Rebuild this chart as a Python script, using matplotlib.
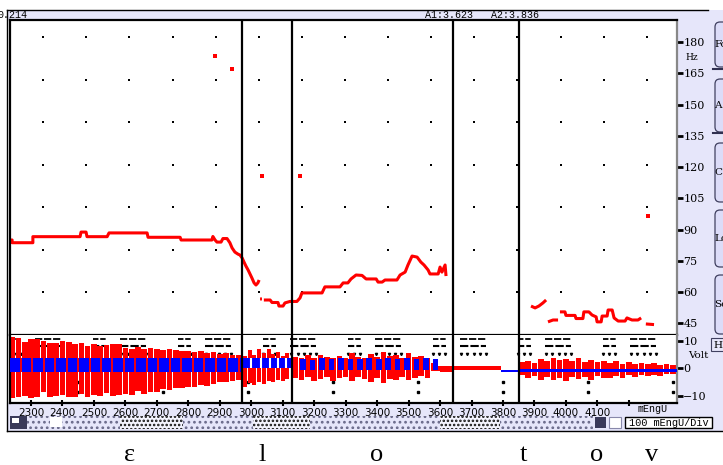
import numpy as np
import matplotlib
matplotlib.use("Agg")
import matplotlib.pyplot as plt
from matplotlib.patches import Rectangle, FancyBboxPatch

nan = float("nan")

# pitch track (mEngU, Hz), nan breaks the voiced stretches
pitch_t = [2233, 2240, 2240, 2306, 2306, 2456, 2459, 2475, 2478, 2542, 2548, 2669, 2672,
           2774, 2777, 2875, 2878, 2885, 2891, 2904, 2910, 2923, 2932, 2939, 2948, 2958,
           2964, 2971, 2977, 2983, 2990, 2996, 3002, 3009, 3015, 3021, 3025, nan,
           3028, 3034, nan,
           3040, 3060, 3066, 3085, 3088, 3101, 3107, 3123, 3145, 3155, 3161, 3225, 3234,
           3282, 3292, 3307, 3317, 3333, 3352, 3365, 3397, 3403, 3416, 3425, 3463, 3473,
           3489, 3498, 3511, 3527, 3539, 3549, 3562, 3568, 3594, 3600, 3606, 3616, 3619, nan,
           3889, 3902, 3914, 3927, 3937, nan,
           3943, 3959, 3975, nan,
           3981, 3997, 4000, 4029, 4032, 4054, 4057, 4073, 4083, 4096,
           4099, 4112, 4115, 4131, 4134, 4147, 4153, 4166, 4188, 4194, 4210, 4229, 4239, nan,
           4254, 4280]
pitch_hz = [85.0, 85.0, 83.7, 83.7, 86.6, 86.6, 88.8, 88.8, 86.6, 86.6, 88.4, 88.4, 86.3,
            86.3, 85.0, 85.0, 86.7, 85.0, 84.0, 84.0, 85.7, 85.7, 83.7, 81.2, 79.2, 78.2,
            77.8, 76.4, 74.4, 72.5, 70.6, 68.7, 66.8, 64.4, 63.4, 64.4, 65.8, nan,
            56.7, 56.7, nan,
            56.2, 56.2, 55.0, 55.0, 53.3, 53.3, 54.8, 55.5, 55.5, 57.2, 59.6, 59.6, 62.5,
            62.5, 64.4, 64.4, 66.3, 68.2, 68.0, 66.3, 66.3, 64.8, 64.8, 65.8, 65.8, 68.2,
            69.6, 73.0, 77.3, 76.8, 74.4, 73.0, 70.6, 68.7, 68.7, 72.0, 69.6, 73.0, 67.7, nan,
            53.3, 52.4, 53.3, 54.8, 56.2, nan,
            45.7, 46.6, 46.6, nan,
            50.5, 50.5, 48.8, 48.8, 47.3, 47.3, 50.5, 50.5, 49.0, 48.1,
            45.7, 45.7, 48.5, 48.5, 51.4, 51.4, 47.6, 46.1, 46.1, 47.6, 46.6, 46.6, 47.6, nan,
            44.7, 44.4]
stray_t = [2885, 2939, 3034, 3155, 4261]
stray_hz = [173.3, 167.0, 115.7, 115.7, 96.5]

seg_bounds = [2970.6, 3129.5, 3641.1, 3850.9]

# waveform envelope (Volt)
t1 = [2240, 2260, 2280, 2300, 2320, 2340, 2360, 2380, 2400, 2420, 2440, 2460, 2480, 2500,
      2520, 2540, 2560, 2580, 2600, 2620, 2640, 2660, 2680, 2700, 2720, 2740, 2760, 2780,
      2800, 2820, 2840, 2860, 2880, 2900, 2920, 2940, 2960]
top1 = [11.2, 11.0, 9.5, 10.5, 10.4, 9.8, 9.2, 9.0, 9.9, 9.6, 8.7, 9.2, 8.0, 8.9, 8.1, 8.3,
        8.7, 8.6, 7.5, 6.9, 7.6, 6.8, 7.2, 7.0, 6.6, 6.9, 6.5, 6.2, 6.4, 5.9, 6.3, 5.5, 5.8,
        5.2, 5.5, 4.8, 4.9]
bot1 = [-10.5, -10.4, -9.8, -10.5, -10.2, -8.5, -10.3, -10.0, -9.4, -10.2, -10.1, -9.0,
        -10.1, -9.6, -10.0, -8.8, -9.9, -9.7, -9.2, -9.5, -8.0, -9.2, -8.3, -8.5, -7.4, -7.8,
        -6.9, -7.1, -6.5, -6.8, -5.9, -6.2, -5.5, -5.0, -4.8, -4.4, -4.0]
pulses1 = [2267, 2303, 2340, 2376, 2413, 2449, 2486, 2522, 2559, 2595, 2632, 2668, 2705,
           2741, 2778, 2814, 2851, 2887, 2924, 2960]

t2 = [2980, 2995, 3010, 3025, 3040, 3055, 3070, 3085, 3100, 3115]
top2 = [4.5, 6.5, 5.0, 7.0, 5.5, 6.8, 5.2, 6.0, 4.6, 5.5]
bot2 = [-6.5, -5.2, -6.0, -4.8, -5.5, -4.5, -5.0, -4.2, -4.6, -3.8]
gaps2 = [3000, 3030, 3058, 3085, 3110]

t3 = [3140, 3160, 3180, 3200, 3220, 3240, 3260, 3280, 3300, 3320, 3340, 3360, 3380, 3400,
      3420, 3440, 3460, 3480, 3500, 3520, 3540, 3560, 3580, 3600, 3620]
top3 = [4.0, 3.6, 4.8, 3.8, 5.0, 4.2, 3.9, 4.6, 3.7, 5.5, 4.1, 3.8, 5.2, 4.0, 5.8, 4.3, 4.9,
        3.9, 5.6, 4.2, 4.6, 3.8, 2.0, 1.0, 1.0]
bot3 = [-3.5, -4.2, -3.0, -4.5, -3.8, -2.9, -4.6, -3.6, -3.2, -4.4, -3.0, -3.9, -4.8, -3.4,
        -5.2, -3.7, -4.3, -3.1, -4.0, -3.5, -2.8, -3.3, -1.0, -1.0, -1.0]
blue3 = [3165, 3195, 3225, 3255, 3285, 3315, 3345, 3375, 3405, 3435, 3465, 3495, 3525,
         3555, 3585]
blue3_top = [3.5, 3.2, 3.6, 3.4, 3.6, 3.3, 3.5, 3.6, 3.4, 3.6, 3.5, 3.6, 3.3, 3.6, 3.5]

t5 = [3860, 3880, 3900, 3920, 3940, 3960, 3980, 4000, 4020, 4040, 4060, 4080, 4100, 4120,
      4140, 4160, 4180, 4200, 4220, 4240, 4260, 4280, 4300, 4320, 4340]
top5 = [2.2, 2.8, 2.0, 3.3, 2.5, 3.8, 2.9, 3.4, 2.6, 3.6, 2.4, 3.0, 2.2, 2.8, 1.9, 2.5, 1.7,
        2.3, 1.6, 2.1, 1.5, 1.9, 1.4, 1.7, 1.3]
bot5 = [-2.5, -3.5, -2.8, -4.2, -3.0, -4.0, -3.4, -4.5, -2.9, -3.8, -3.1, -4.1, -2.7, -3.6,
        -3.3, -2.6, -3.5, -2.4, -3.0, -2.2, -2.8, -2.3, -2.6, -2.1, -2.0]

hz_ticks = [45, 60, 75, 90, 105, 120, 135, 150, 165, 180]
time_ticks = [2300, 2400, 2500, 2600, 2700, 2800, 2900, 3000, 3100, 3200, 3300, 3400,
              3500, 3600, 3700, 3800, 3900, 4000, 4100, 4200]
phones = ["ε", "l", "o", "t", "o", "v"]
phone_x = [130, 262, 377, 523, 597, 652]

RED, BLUE, LAV = "#ff0000", "#0000ff", "#e6e6fa"
XL = (2233.3, 4353.0)

fig = plt.figure(figsize=(7.23, 4.65), dpi=100)

# background "window" decoration, in pixel coords
bg = fig.add_axes([0, 0, 1, 1], zorder=-1)
bg.set_xlim(0, 723)
bg.set_ylim(465, 0)
bg.axis("off")
bg.add_patch(Rectangle((7, 10), 703, 10, fc=LAV, ec="none"))
bg.plot([7, 708], [10.5, 10.5], color="k", lw=1)
bg.plot([7, 7], [10.5, 431], color="k", lw=1)
bg.add_patch(Rectangle((677, 10), 46, 421, fc=LAV, ec="none"))
bg.add_patch(Rectangle((7, 403), 716, 28, fc=LAV, ec="none"))
bg.plot([7, 723], [430.5, 430.5], color="k", lw=1)
bg.text(-3, 15.5, "0.214", family="Liberation Mono", fontsize=7.2, va="center")
bg.text(425, 15.5, "A1:3.623   A2:3.836", family="Liberation Mono", fontsize=7.2, va="center")

# scrollbar
plt.rcParams["hatch.linewidth"] = 1.2
bg.add_patch(Rectangle((10, 416), 583, 13, fc=LAV, ec="#6a6a8a", lw=0, hatch="..."))
for a, b in [(120, 183), (253, 310), (440, 500)]:
    bg.add_patch(Rectangle((a, 416), b - a, 13, fc="#f4f4ff", ec="#101010", lw=0, hatch="...."))
bg.add_patch(Rectangle((10, 416), 17, 13, fc="#3a3a5a", ec="none"))
bg.add_patch(Rectangle((12, 418), 7, 5, fc="white", ec="none"))
bg.add_patch(Rectangle((50, 417), 12, 10, fc="white", ec="none"))
bg.add_patch(Rectangle((595, 417), 11, 11, fc="#3a3a5a", ec="none"))
bg.add_patch(Rectangle((609, 417), 12, 11, fc="white", ec="#8888aa", lw=0.8))
bg.add_patch(Rectangle((625, 417), 87, 11, fc="white", ec="k", lw=1))
bg.text(629, 423, "100 mEngU/Div", family="Liberation Mono", fontsize=7.4, va="center")

# side buttons, cut by the window edge
for y0, y1, lab in [(22, 67, "Fo"), (79, 132, "A"), (143, 202, "C"), (210, 267, "Lo"),
                    (275, 334, "Se")]:
    bg.add_patch(FancyBboxPatch((715, y0), 30, y1 - y0, boxstyle="round,pad=0,rounding_size=5",
                                fc="#dcdcf8", ec="#404060", lw=0.9))
    bg.text(714, (y0 + y1) / 2, lab, family="DejaVu Serif", fontsize=7.5, va="center")
bg.plot([713, 723], [69.5, 69.5], color="#303050", lw=1.5)
bg.plot([713, 723], [133.5, 133.5], color="#303050", lw=1.5)
bg.add_patch(Rectangle((711, 338), 14, 13, fc=LAV, ec="#404060", lw=0.8))
bg.text(713, 345, "H", family="DejaVu Serif", fontsize=7.5, va="center")

for s, x in zip(phones, phone_x):
    bg.text(x, 461, s, family="Liberation Serif", fontsize=19, ha="center", va="baseline")

# ---- pitch panel ----
ax = fig.add_axes([10 / 723, 1 - 335 / 465, 667 / 723, 315 / 465])
ax.set_xlim(*XL)
ax.set_ylim(39.4, 190.6)
gx, gy = np.meshgrid(2339 + 137.0 * np.arange(15), 60.0 + 20.4 * np.arange(7))
ax.scatter(gx.ravel(), gy.ravel(), s=2.5, marker="s", color="k", lw=0)
ax.plot(pitch_t, pitch_hz, color=RED, lw=2.2, solid_capstyle="butt")
ax.plot(stray_t, stray_hz, ls="none", marker="s", ms=2.6, color=RED, mew=0)
for b in seg_bounds:
    ax.axvline(b, color="k", lw=1.6)
ax.set_xticks([])
ax.yaxis.tick_right()
ax.set_yticks(hz_ticks)
ax.tick_params(axis="y", direction="out", length=4, width=2, pad=0.5, labelsize=8)
for lab in ax.get_yticklabels():
    lab.set_family("DejaVu Serif")
ax.text(1.012, 172.8, "Hz", transform=ax.get_yaxis_transform(), family="DejaVu Serif",
        fontsize=6.5, va="center")
for side in ["left", "top", "bottom"]:
    ax.spines[side].set_linewidth(1.6)
ax.spines["right"].set_color("#888888")
ax.spines["right"].set_linewidth(1.6)

# ---- waveform panel ----
wv = fig.add_axes([10 / 723, 1 - 403 / 465, 667 / 723, 68 / 465])
wv.set_xlim(*XL)
wv.set_ylim(-12.4, 12.0)

# faint garbage dashes of the display
for k in range(-1, 8):
    v0 = 2497 + 270 * k
    for yy, lw in [(10.5, 1.3), (8.2, 1.5)]:
        wv.plot([v0, v0 + 41], [yy, yy], color="k", lw=lw, dashes=(3, 1), zorder=1)
        wv.plot([v0 + 86, v0 + 168], [yy, yy], color="k", lw=lw, dashes=(4, 1), zorder=1)
    wv.plot(v0 + np.array([0, 20, 40, 90, 110, 130, 150, 170]), [5.1] * 8, ls="none",
            marker="v", ms=1.6, color="k", zorder=1)
    wv.plot([v0 - 48, v0 - 48], [-4.7, -8.4], ls="none", marker="s", ms=1.6, color="k",
            zorder=1)

wv.bar(t1, np.subtract(top1, bot1), bottom=bot1, width=18, color=RED, lw=0, zorder=2)
wv.bar(t2, np.subtract(top2, bot2), bottom=bot2, width=13, color=RED, lw=0, zorder=2)
wv.bar(t3, np.subtract(top3, bot3), bottom=bot3, width=18, color=RED, lw=0, zorder=2)
wv.bar(t5, np.subtract(top5, bot5), bottom=bot5, width=18, color=RED, lw=0, zorder=2)

wv.fill_between([XL[0], seg_bounds[0]], -1.1, 3.6, color=BLUE, lw=0, zorder=3)
wv.vlines(pulses1, -1.1, 3.6, color=RED, lw=1.3, zorder=4)
wv.fill_between([seg_bounds[0], seg_bounds[1]], 0.0, 3.6, color=BLUE, lw=0, zorder=3)
wv.vlines(gaps2, 0.0, 3.6, color="white", lw=1.5, zorder=4)
wv.bar(blue3, np.add(blue3_top, 0.4), bottom=-0.4, width=18, color=BLUE, lw=0, zorder=3)
wv.fill_between([3600, seg_bounds[2]], -1.1, 0.7, color=RED, lw=0, zorder=3)
wv.fill_between([seg_bounds[2], 3795], -0.6, 0.9, color=RED, lw=0, zorder=3)
wv.fill_between([3795, seg_bounds[3]], -1.4, -0.4, color=BLUE, lw=0, zorder=3)
wv.fill_between([seg_bounds[3], XL[1]], -1.3, -0.1, color=BLUE, lw=0, zorder=3)

for b in seg_bounds:
    wv.axvline(b, color="k", lw=1.6, zorder=5)

wv.set_xticks(time_ticks)
wv.set_xticklabels([str(t) for t in time_ticks[:-1]] + [""])
wv.tick_params(axis="x", direction="inout", length=5, width=1.5, pad=1, labelsize=7.5)
wv.text(653, 409, "mEngU", transform=bg.transData, family="Liberation Mono", fontsize=7.2,
        ha="center", va="center")
wv.yaxis.tick_right()
wv.set_yticks([-10, 0, 10])
wv.tick_params(axis="y", direction="out", length=4, width=2, pad=0.5, labelsize=8)
for lab in wv.get_yticklabels():
    lab.set_family("DejaVu Serif")
wv.text(1.016, 4.7, "Volt", transform=wv.get_yaxis_transform(), family="DejaVu Serif",
        fontsize=7.5, va="center")
wv.spines["top"].set_visible(False)
for side in ["left", "bottom"]:
    wv.spines[side].set_linewidth(1.6)
wv.spines["right"].set_color("#888888")
wv.spines["right"].set_linewidth(1.6)

fig.savefig("out.png", dpi=100)
